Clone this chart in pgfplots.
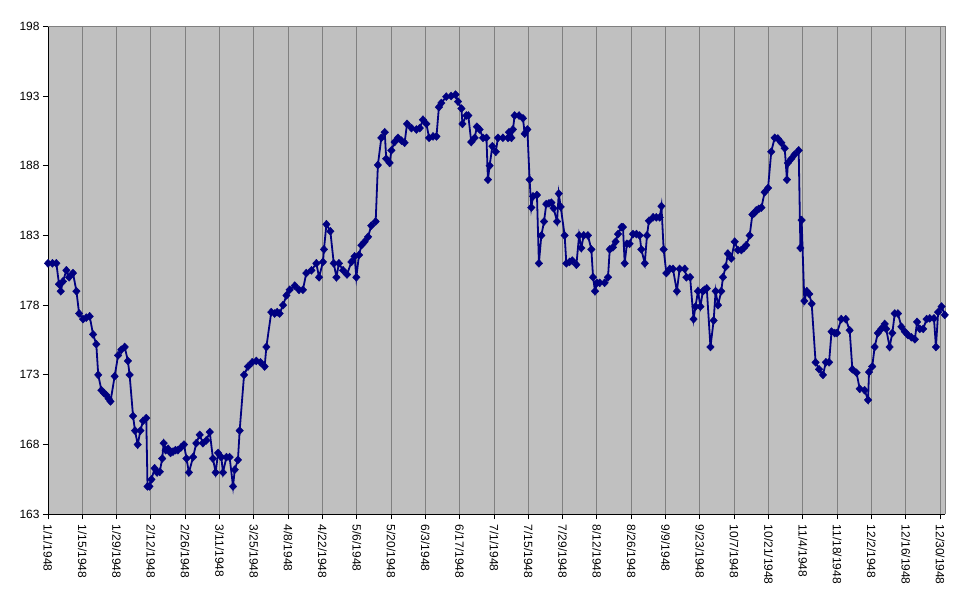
\documentclass[border=0pt]{standalone}
\usepackage{fontspec}
\setmainfont{Liberation Sans}
\usepackage{pgfplots}
\pgfplotsset{compat=1.18}
\definecolor{navy}{HTML}{000080}
\definecolor{plotgray}{HTML}{C0C0C0}
\definecolor{gridgray}{HTML}{808080}
\pgfplotstableread{
d v
0 181.0
1.8 181.0
3.4 181.0
4.5 179.5
5.2 179.0
6.1 179.7
7.5 180.5
8.6 180.0
10.2 180.3
11.6 179.0
12.7 177.4
14.3 177.0
15.6 177.1
17 177.2
18.4 175.9
19.7 175.2
20.5 173.0
21.8 171.9
22.8 171.7
23.8 171.55
24.7 171.3
25.5 171.1
27.2 172.9
28.6 174.4
29.9 174.8
31.3 175.0
32.6 174.0
33.3 173.0
34.7 170.05
35.5 169.0
36.6 168.0
37.7 169.0
38.8 169.7
40.1 169.9
40.6 165.0
41.4 165.0
42.2 165.5
43.5 166.3
44.5 166.0
45.6 166.05
46.6 167.0
47.2 168.1
48 167.6
49 167.7
50 167.4
51 167.5
52 167.6
53 167.6
54.3 167.8
55.5 168.0
56.5 167.0
57.5 166.0
59.2 167.1
60.5 168.1
61.9 168.7
63.2 168.1
64.6 168.3
66 168.9
67.3 167.0
68.4 166.0
69.4 167.4
70.7 167.1
71.4 166.0
72.8 167.1
74.1 167.1
75.5 165.0
76.2 166.2
77.5 166.9
78.2 169.0
80 173.0
81.6 173.6
83.3 173.9
85 174.0
86.7 173.9
88.4 173.6
89.1 175.0
91.1 177.5
92.5 177.4
93.5 177.5
94.5 177.4
95.9 178.0
97.3 178.7
98.6 179.1
100.7 179.4
102.4 179.1
104 179.1
105.4 180.3
107.5 180.5
109.5 181.0
110.6 180.0
112.2 181.1
112.6 182.0
113.6 183.8
115.2 183.3
116.6 181.0
117.7 180.0
118.7 181.0
120.4 180.5
122 180.2
123.8 181.1
125.1 181.5
125.8 180.0
126.9 181.6
127.9 182.3
129.2 182.55
130.6 182.9
131.9 183.7
133.7 184.0
134.6 188.05
136 190.0
137.4 190.4
138 188.5
139.4 188.2
140.1 189.1
141.4 189.7
142.8 190.0
144.2 189.8
145.5 189.65
146.5 191.0
148.3 190.7
150.3 190.6
151.7 190.7
153 191.3
154.4 191.0
155.5 190.0
157.1 190.1
158.5 190.1
159.5 192.2
160.5 192.5
162.5 192.95
164.5 193.0
166.3 193.1
167.3 192.6
168.7 192.1
169.1 191.0
170.7 191.6
171.5 191.6
172.7 189.7
174.1 190.0
175 190.8
176.1 190.6
177.5 190.0
178.9 190.0
179.5 187.0
180.2 188.0
181.3 189.4
182.7 189.0
183.6 190.0
185.6 190.0
187.7 190.0
188.1 190.4
189.1 190.0
189.7 190.6
190.4 191.6
192.2 191.6
193.8 191.4
194.5 190.3
195.6 190.6
196.5 187.0
197.2 185.0
197.9 185.8
199.5 185.9
200.3 181.0
201.3 183.0
202.4 184.0
203.3 185.25
204.4 185.3
205.4 185.35
206.3 184.95
207.7 184.0
208.4 186.0
209.2 185.05
210.8 183.0
211.5 181.0
212.8 181.1
213.9 181.2
215.6 180.9
216.7 183.0
217.6 182.1
218.6 183.0
220.3 183.0
221.7 182.0
222.4 180.0
223.2 179.0
224.0 179.6
225.1 179.6
227.1 179.6
228.5 180.0
229.2 182.0
230.5 182.15
231.6 182.55
232.6 183.1
234 183.6
234.6 183.6
235.3 181.0
236.2 182.4
237.3 182.4
238.7 183.1
240.1 183.1
241.4 183.0
242.1 182.0
243.5 181.0
244.4 183.0
245.2 184.05
246.9 184.3
248.2 184.3
249.6 184.3
250.3 185.1
251.2 182.0
252.3 180.3
253.7 180.6
255 180.6
256.6 179.0
257.7 180.6
259.8 180.6
260.5 180.0
262 180.0
263.4 177.0
264.2 177.9
265.2 179.0
266.2 177.9
267.2 179.0
267.9 179.1
268.8 179.2
270.3 175.0
271.6 176.9
272.4 179.0
273.4 178.0
274.7 179.0
275.4 180.0
276.5 180.75
277.4 181.7
278.8 181.35
280.2 182.55
281.5 181.95
282.9 181.95
283.9 182.1
284.9 182.3
286.3 183.0
287.4 184.5
288.2 184.6
289 184.8
290 184.9
291.1 185.0
292.4 186.1
293.8 186.4
295.1 189.0
296.5 190.0
297.8 189.95
299.2 189.65
300.6 189.25
301.5 187.0
301.9 188.2
303.3 188.5
304.6 188.8
306.3 189.1
307.0 182.1
307.5 184.1
308.6 178.3
309.6 179.0
310.6 178.8
311.6 178.1
313.2 173.9
314.6 173.4
316.2 173.0
317.4 173.9
318.7 173.9
319.7 176.1
321 176.0
321.9 176.0
323.7 177.0
325.5 177.0
327.1 176.2
328.2 173.4
329.9 173.15
331.2 172.0
333.2 171.9
334.6 171.2
335 173.2
336.3 173.6
337.3 175.0
338.6 176.0
340 176.3
341.4 176.65
342 176.3
343.4 175.0
344.5 176.0
345.5 177.4
346.8 177.4
348.2 176.45
349.6 176.1
350.9 175.85
352.3 175.7
353.7 175.55
354.6 176.8
355.7 176.3
357.1 176.3
358.5 177.0
359.8 177.05
361.5 177.05
362.3 175.0
363.2 177.5
364.6 177.9
365.9 177.3
}\dowdata
\begin{document}
\begin{tikzpicture}
\begin{axis}[
  scale only axis, width=897bp, height=488bp,
  xmin=0, xmax=366, ymin=163, ymax=198,
  ytick={163,168,...,198},
  xtick={0,14,...,364},
  xticklabels={1/1/1948,1/15/1948,1/29/1948,2/12/1948,2/26/1948,3/11/1948,3/25/1948,4/8/1948,4/22/1948,5/6/1948,5/20/1948,6/3/1948,6/17/1948,7/1/1948,7/15/1948,7/29/1948,8/12/1948,8/26/1948,9/9/1948,9/23/1948,10/7/1948,10/21/1948,11/4/1948,11/18/1948,12/2/1948,12/16/1948,12/30/1948},
  xticklabel style={rotate=-90, anchor=west, font=\fontsize{12}{14}\selectfont},
  xticklabel shift=2bp,
  yticklabel style={font=\fontsize{12}{14}\selectfont},
  /pgf/number format/assume math mode=true,
  axis background/.style={fill=plotgray},
  xmajorgrids, major grid style={gridgray, line width=1bp},
  axis x line*=bottom, axis y line*=left,
  axis line style={black, line width=1bp, -},
  tick align=outside, major tick length=5bp,
  tick style={black, line width=1bp},
  clip=false,
]
\draw[gridgray, line width=1bp] (rel axis cs:0,1) -- (rel axis cs:1,1) -- (rel axis cs:1,0);
\addplot[navy, line width=1.8bp, mark=diamond*, mark size=4bp,
  mark options={xscale=1.25, fill=navy, draw=navy, line width=0.4bp}] table[x=d, y=v] {\dowdata};
\end{axis}
\pgfresetboundingbox
\path ([shift={(-48bp,-90.7bp)}]current axis.south west) rectangle ([shift={(26bp,26.3bp)}]current axis.north east);
\end{tikzpicture}
\end{document}
